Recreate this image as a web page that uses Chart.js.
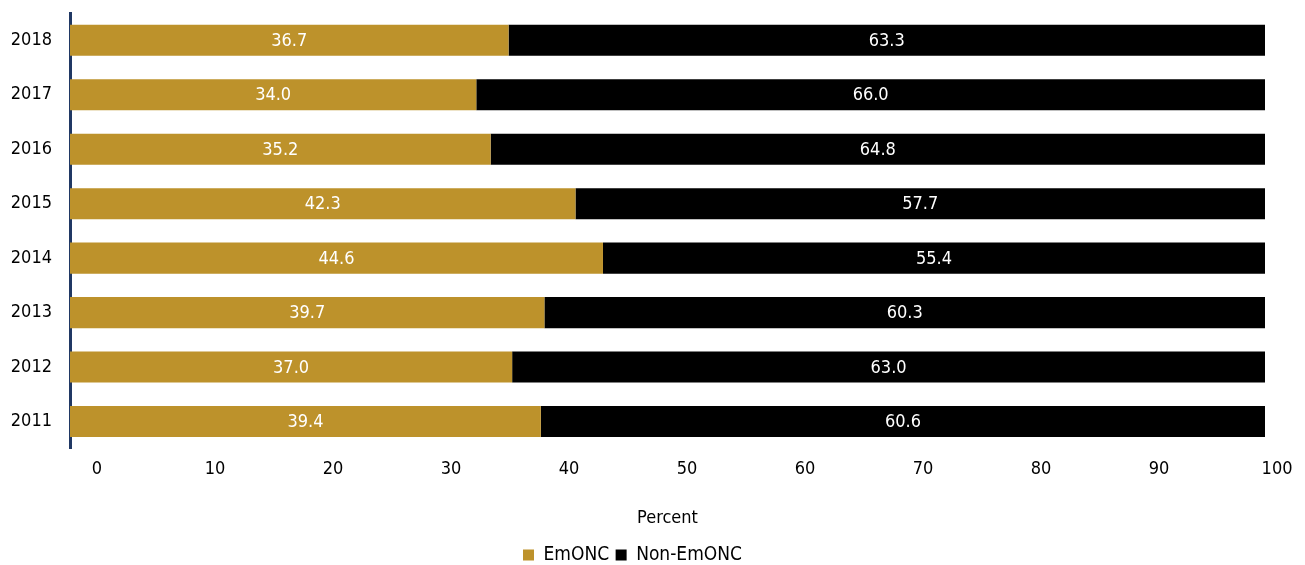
<!DOCTYPE html>
<html><head><meta charset="utf-8">
<script src="https://cdn.jsdelivr.net/npm/chart.js@4"></script>
<style>html,body{margin:0;padding:0;background:#fff;}#wrap{width:1305px;height:565px;}</style>
</head><body><div id="wrap"><canvas id="c" width="1305" height="565"></canvas></div>
<script>
const years = ['2018','2017','2016','2015','2014','2013','2012','2011'];
const emonc = [36.7, 34.0, 35.2, 42.3, 44.6, 39.7, 37.0, 39.4];
const nonEmonc = [63.3, 66.0, 64.8, 57.7, 55.4, 60.3, 63.0, 60.6];
const xTicks = [0,10,20,30,40,50,60,70,80,90,100];

const FONT = 'Tahoma, "DejaVu Sans Condensed", "DejaVu Sans", sans-serif';
Chart.defaults.font.family = FONT;
Chart.defaults.font.size = 18;
Chart.defaults.color = '#000';

const valueLabels = {
  id: 'valueLabels',
  afterDatasetsDraw(chart) {
    const ctx = chart.ctx;
    ctx.save();
    ctx.fillStyle = '#fff';
    ctx.font = '18px ' + FONT;
    ctx.textAlign = 'center';
    ctx.textBaseline = 'middle';
    chart.data.datasets.forEach((ds, di) => {
      const meta = chart.getDatasetMeta(di);
      meta.data.forEach((bar, i) => {
        const p = bar.getProps(['x','y','base'], true);
        ctx.fillText(ds.data[i].toFixed(1), (p.x + p.base) / 2, p.y + 1);
      });
    });
    ctx.restore();
  }
};

new Chart(document.getElementById('c'), {
  type: 'bar',
  data: {
    labels: years,
    datasets: [
      { label: 'EmONC', data: emonc, backgroundColor: '#BD922B', xAxisID: 'xb', barPercentage: 0.57, categoryPercentage: 1 },
      { label: 'Non-EmONC', data: nonEmonc, backgroundColor: '#000000', xAxisID: 'xb', barPercentage: 0.57, categoryPercentage: 1 }
    ]
  },
  options: {
    indexAxis: 'y',
    responsive: false,
    animation: false,
    layout: { padding: { top: 13, right: 40, left: 0, bottom: -9.5 } },
    scales: {
      xb: { type: 'linear', stacked: true, min: 0, max: 100, display: false },
      x: {
        type: 'linear', position: 'bottom', min: -2.29, max: 98.98,
        afterBuildTicks(axis) { axis.ticks = xTicks.map(v => ({ value: v })); },
        ticks: { autoSkip: false, maxRotation: 0, padding: 10, color: '#000', font: { size: 18 } },
        grid: { display: false, drawTicks: false },
        border: { display: false },
        title: { display: true, text: 'Percent', color: '#000', font: { size: 18 }, padding: { top: 17, bottom: 10 } }
      },
      y: {
        stacked: true,
        grid: { display: false, drawTicks: false },
        border: { display: true, color: '#203864', width: 3 },
        ticks: { color: '#000', padding: 18, font: { size: 18 } },
        afterFit(axis) { axis.width = 70; axis.paddingTop = 0; axis.paddingBottom = 0; }
      }
    },
    plugins: {
      legend: {
        position: 'bottom',
        labels: { boxWidth: 11, boxHeight: 11, color: '#000', padding: 6.5, font: { size: 19 } }
      },
      tooltip: { enabled: false }
    }
  },
  plugins: [valueLabels]
});
</script></body></html>
